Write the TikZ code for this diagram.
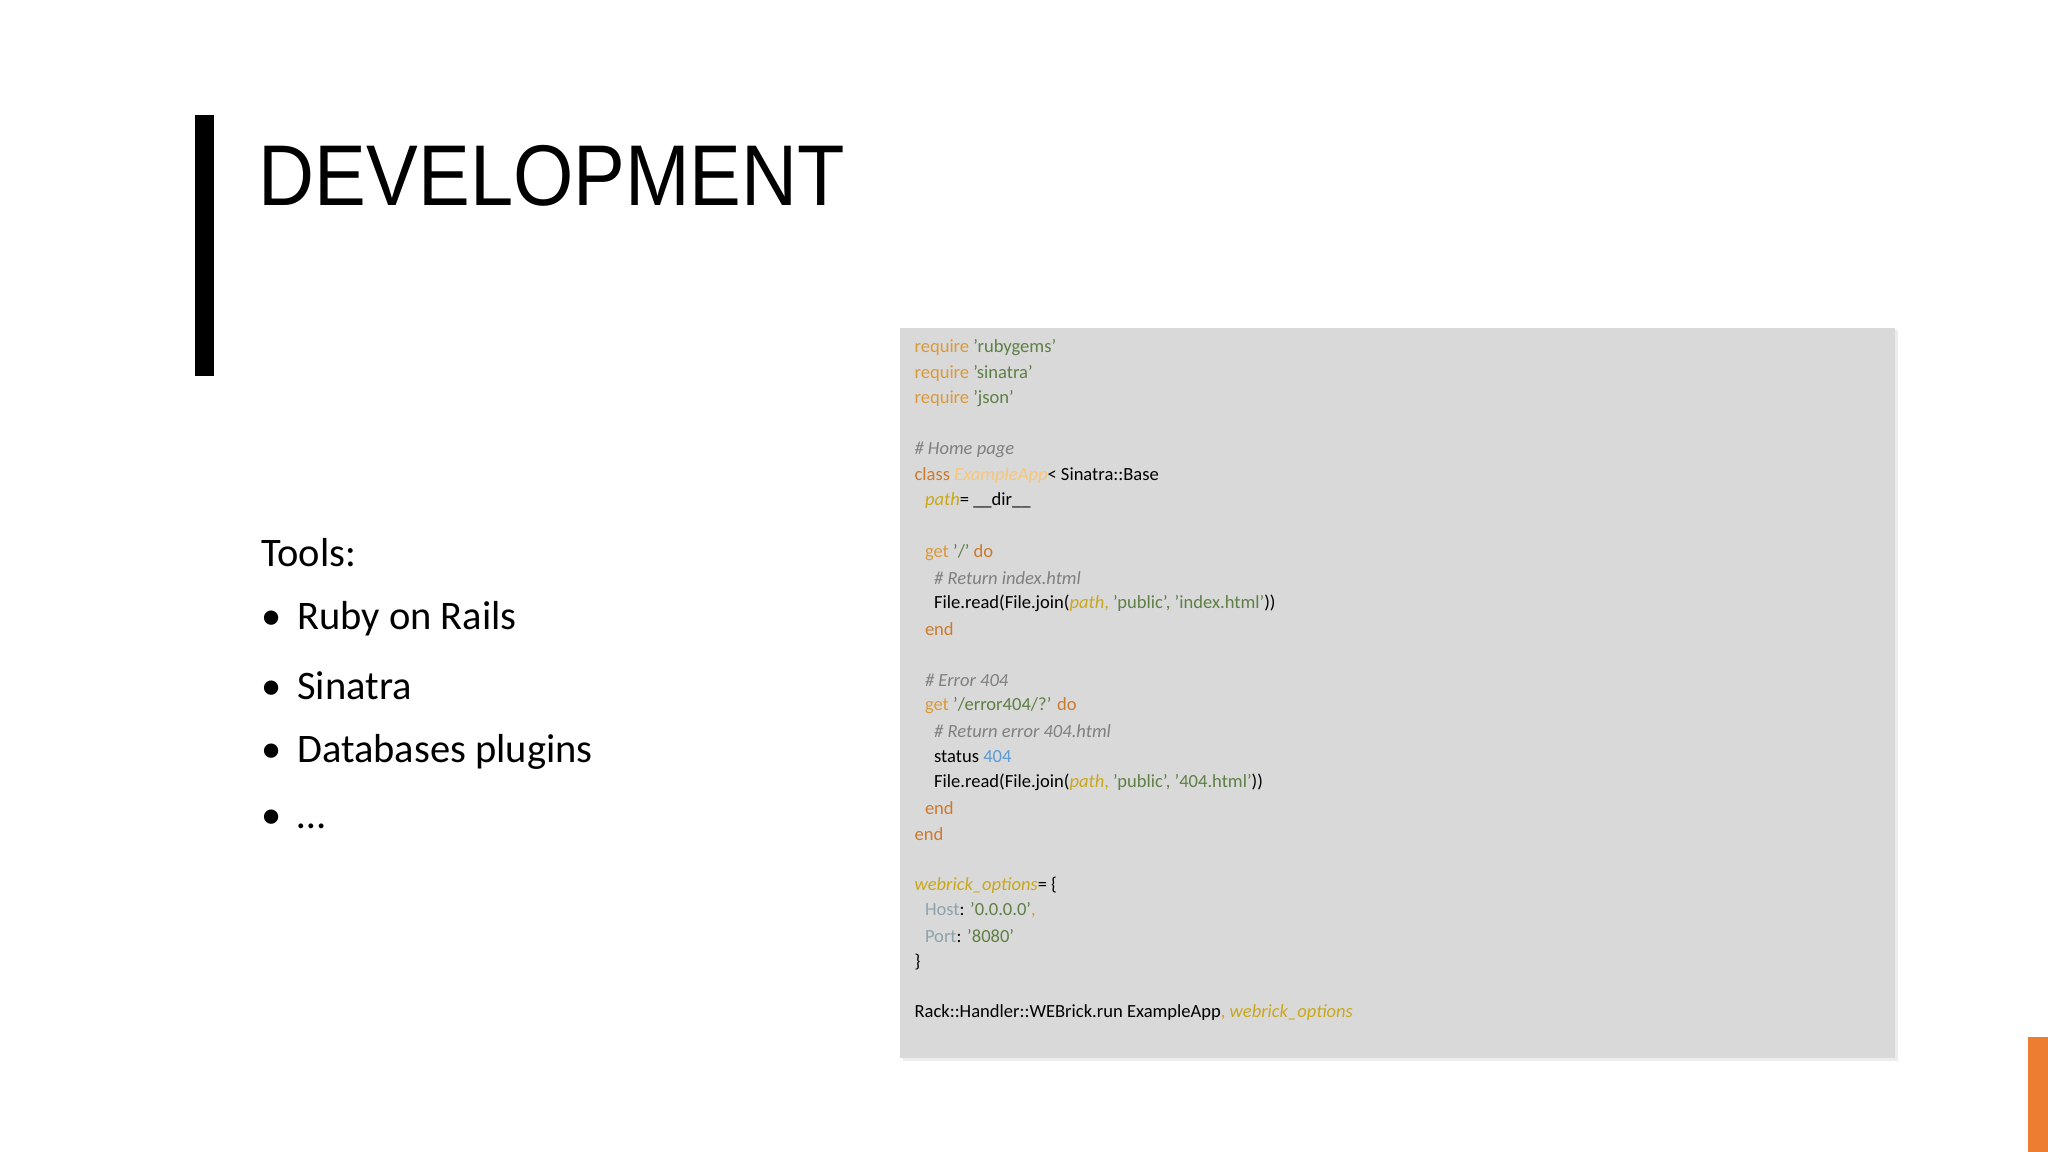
\documentclass[tikz,border=0pt]{standalone}
\usepackage{fontspec}
\setmainfont{Carlito}
\newfontfamily\titlefont{Liberation Sans}
\definecolor{kw}{HTML}{DB9A3A}
\definecolor{kwb}{HTML}{CC7A2E}
\definecolor{str}{HTML}{5E7F45}
\definecolor{cmt}{HTML}{7F7F7F}
\definecolor{var}{HTML}{C9A81C}
\definecolor{cls}{HTML}{F6C77A}
\definecolor{num}{HTML}{5B9BD5}
\definecolor{key}{HTML}{8EA2AE}
\definecolor{codebg}{HTML}{D9D9D9}
\definecolor{ybar}{HTML}{FFC000}
\definecolor{obar}{HTML}{ED7D31}
\begin{document}
\begin{tikzpicture}[x=1pt,y=-1pt,
  cl/.style={anchor=west,inner sep=0pt,font=\fontsize{14.2}{16}\selectfont},
  bl/.style={anchor=west,inner sep=0pt,font=\fontsize{31}{36}\selectfont}]
\useasboundingbox (0,0) rectangle (1568,882);
\fill[white] (0,0) rectangle (1568,882);
\fill[black!12,opacity=0.6] (691,253) rectangle (1453,812);
\fill[codebg] (689,251) rectangle (1451,810);
\fill[ybar] (149,88) rectangle (164,288);
\fill[obar] (1553,794) rectangle (1568,882);
\node[anchor=west,inner sep=0pt,font=\titlefont\fontsize{66}{70}\selectfont,xscale=0.9] (title) at (198,135) {DEVELOPMENT};
\node[bl] (tools) at (200,423) {Tools:};
\node[bl] (b1) at (200,474) {\textbullet\hspace{12pt}Ruby on Rails};
\node[bl] (b2) at (200,525) {\textbullet\hspace{12pt}Sinatra};
\node[bl] (b3) at (200,576) {\textbullet\hspace{12pt}Databases plugins};
\node[bl] (b4) at (200,627) {\textbullet\hspace{12pt}\dots};
\def\L#1#2#3{\node[cl] (#1) at (#2,266+19.6*#3) }
\L{c1}{700}{0} {\color{kw}require \color{str}'rubygems'};
\L{c2}{700}{1} {\color{kw}require \color{str}'sinatra'};
\L{c3}{700}{2} {\color{kw}require \color{str}'json'};
\L{c4}{700}{4} {\color{cmt}\itshape \# Home page};
\L{c5}{700}{5} {\color{kwb}class \color{cls}\itshape ExampleApp\upshape\color{black} < Sinatra::Base};
\L{c6}{708}{6} {\color{var}\itshape path\upshape\color{black} = \_\_dir\_\_};
\L{c7}{708}{8} {\color{kw}get \color{str}'/' \color{kwb}do};
\L{c8}{715}{9} {\color{cmt}\itshape \# Return index.html};
\L{c9}{715}{10} {File.read(File.join(\color{var}\itshape path\upshape, \color{str}'public', 'index.html'\color{black}))};
\L{c10}{708}{11} {\color{kwb}end};
\L{c11}{708}{13} {\color{cmt}\itshape \# Error 404};
\L{c12}{708}{14} {\color{kw}get \color{str}'/error404/?' \color{kwb}do};
\L{c13}{715}{15} {\color{cmt}\itshape \# Return error 404.html};
\L{c14}{715}{16} {status \color{num}404};
\L{c15}{715}{17} {File.read(File.join(\color{var}\itshape path\upshape, \color{str}'public', '404.html'\color{black}))};
\L{c16}{708}{18} {\color{kwb}end};
\L{c17}{700}{19} {\color{kwb}end};
\L{c18}{700}{21} {\color{var}\itshape webrick\_options\upshape\color{black} = \{};
\L{c19}{708}{22} {\color{key}Host\color{black}: \color{str}'0.0.0.0'\color{kw},};
\L{c20}{708}{23} {\color{key}Port\color{black}: \color{str}'8080'};
\L{c21}{700}{24} {\}};
\L{c22}{700}{26} {Rack::Handler::WEBrick.run ExampleApp\color{kw}, \color{var}\itshape webrick\_options};
\end{tikzpicture}
\end{document}
